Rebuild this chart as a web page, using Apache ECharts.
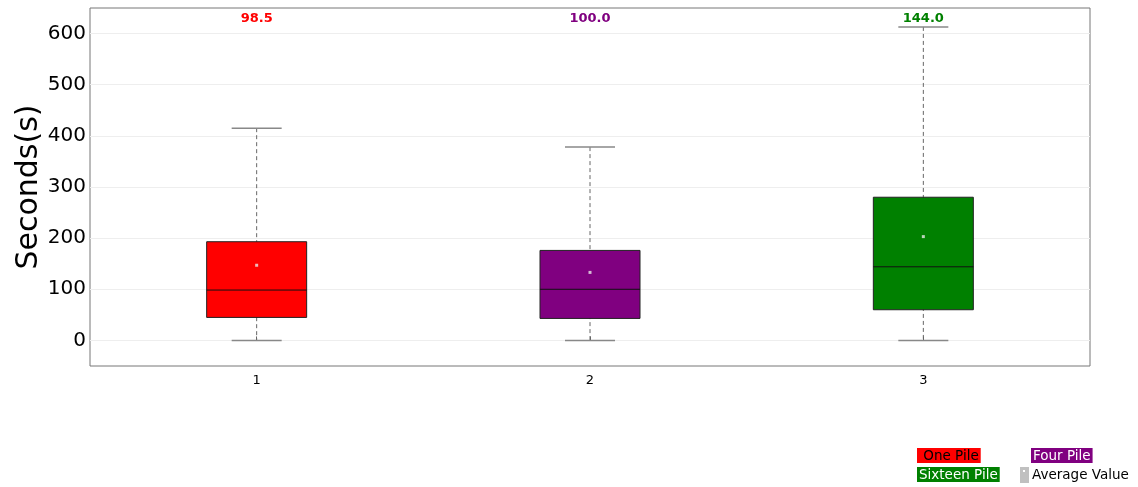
<!DOCTYPE html>
<html><head><meta charset="utf-8">
<script src="https://cdn.jsdelivr.net/npm/echarts@6/dist/echarts.min.js"></script>
<style>html,body{margin:0;padding:0;background:#fff}#c{width:1138px;height:487px}</style>
</head><body><div id="c"></div>
<script>
const categories = ['1', '2', '3'];
const seriesNames = ['One Pile', 'Four Pile', 'Sixteen Pile'];
const colors = ['#ff0000', '#800080', '#008000'];
const labelTextColors = ['#000000', '#ffffff', '#ffffff'];
const yAxisTitle = 'Seconds(s)';
// [whisker low, Q1, median, Q3, whisker high]
const boxValues = [
  [0, 45, 98.5, 193, 415],
  [0, 43, 100.0, 176, 378],
  [0, 60, 144.0, 280, 613]
];
const meanValues = [147, 133, 203];
const yTicks = [0, 100, 200, 300, 400, 500, 600];

const chart = echarts.init(document.getElementById('c'));
const font = 'DejaVu Sans';

function renderBox(params, api) {
  const i = api.value(0);
  const v = boxValues[i];
  const cx = api.coord([i, 0])[0];
  const boxW = 100, capW = 50;
  const pLow = api.coord([i, v[0]])[1];
  const pQ1 = api.coord([i, v[1]])[1];
  const pMed = api.coord([i, v[2]])[1];
  const pQ3 = api.coord([i, v[3]])[1];
  const pHigh = api.coord([i, v[4]])[1];
  const cs = params.coordSys;
  return {
    type: 'group',
    children: [
      {type: 'line', shape: {x1: cx, y1: pHigh, x2: cx, y2: pLow},
       style: {stroke: '#666', lineWidth: 1, lineDash: [4, 3]}},
      {type: 'line', shape: {x1: cx - capW/2, y1: pHigh, x2: cx + capW/2, y2: pHigh},
       style: {stroke: '#888', lineWidth: 1.5}},
      {type: 'line', shape: {x1: cx - capW/2, y1: pLow, x2: cx + capW/2, y2: pLow},
       style: {stroke: '#888', lineWidth: 1.5}},
      {type: 'rect', shape: {x: cx - boxW/2, y: pQ3, width: boxW, height: pQ1 - pQ3},
       style: {fill: colors[i], stroke: '#222', lineWidth: 1}},
      {type: 'line', shape: {x1: cx - boxW/2, y1: pMed, x2: cx + boxW/2, y2: pMed},
       style: {stroke: '#111', lineWidth: 1}},
      {type: 'text', x: cx, y: cs.y + 11,
       style: {text: v[2].toFixed(1), fill: colors[i], font: 'bold 13px "DejaVu Sans"',
               textAlign: 'center', textVerticalAlign: 'middle'}}
    ]
  };
}

const legendItems = [
  {text: ' One Pile', bg: colors[0], fg: labelTextColors[0], x: 917, y: 448},
  {text: 'Four Pile', bg: colors[1], fg: labelTextColors[1], x: 1031, y: 448},
  {text: 'Sixteen Pile', bg: colors[2], fg: labelTextColors[2], x: 917, y: 467}
];
const graphics = legendItems.map(it => ({
  type: 'text', left: it.x, top: it.y,
  style: {text: it.text, fill: it.fg, backgroundColor: it.bg, font: '13.5px "DejaVu Sans"',
          padding: [1, 2, 0, 2]}
}));
graphics.push({type: 'rect', left: 1020, top: 467, shape: {width: 9, height: 16}, style: {fill: '#c0c0c0'}});
graphics.push({type: 'rect', left: 1023, top: 470, shape: {width: 2, height: 2}, style: {fill: '#fff'}});
graphics.push({type: 'text', left: 1032, top: 468, style: {text: 'Average Value', fill: '#000', font: '13.5px "DejaVu Sans"'}});
graphics.push({type: 'text', x: 29, y: 187, rotation: Math.PI / 2,
  style: {text: yAxisTitle, fill: '#000', font: '30px "DejaVu Sans"', textAlign: 'center', textVerticalAlign: 'middle'}});

chart.setOption({
  animation: false,
  backgroundColor: '#fff',
  grid: {left: 90, right: 48, top: 8, bottom: 121, show: true, borderColor: '#777', borderWidth: 1,
         containLabel: false, outerBoundsMode: 'none'},
  xAxis: {
    type: 'category', data: categories, boundaryGap: true,
    axisLine: {show: false},
    axisTick: {show: true, inside: true, alignWithLabel: true, length: 4, lineStyle: {color: '#666'}},
    axisLabel: {color: '#000', fontSize: 13, fontFamily: font, margin: 8},
    splitLine: {show: false}
  },
  yAxis: {
    type: 'value', min: -50, max: 650, interval: 50,
    axisLine: {show: false},
    axisTick: {show: false},
    axisLabel: {color: '#000', fontSize: 20, fontFamily: font, margin: 4,
      formatter: v => yTicks.indexOf(v) >= 0 ? String(v) : ''},
    splitLine: {show: false}
  },
  series: [
    {type: 'custom', renderItem: renderBox, data: categories.map((c, i) => [i]), z: 2,
     markLine: {silent: true, symbol: 'none', label: {show: false}, z: 1,
       lineStyle: {color: '#eeeeee', width: 1, type: 'solid'},
       data: yTicks.map(t => ({yAxis: t}))}},
    {type: 'scatter', data: meanValues.map((m, i) => [i, m]), symbol: 'rect', symbolSize: 3,
     itemStyle: {color: '#e8e8e8'}, z: 5}
  ],
  graphic: graphics
});
</script></body></html>
